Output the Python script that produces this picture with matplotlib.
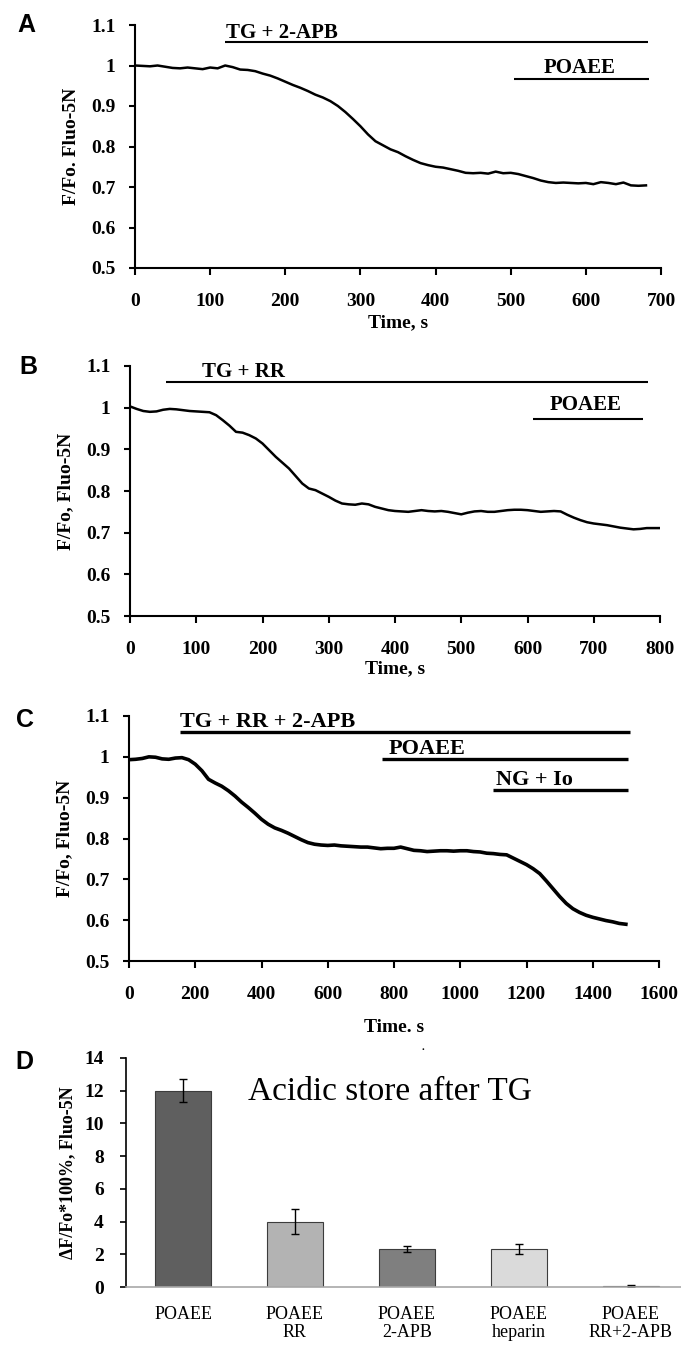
import matplotlib
matplotlib.use("Agg")
import matplotlib.pyplot as plt

plt.rcParams['font.family'] = ['Liberation Serif', 'DejaVu Serif']
plt.rcParams['font.weight'] = 'bold'

# panel A: TG + 2-APB, then POAEE (every 10 s)
t_a = list(range(0, 690, 10))
f_a = [1.000, 0.999, 0.998, 1.000, 0.997, 0.994, 0.993, 0.995, 0.993, 0.991,
       0.995, 0.993, 1.000, 0.996, 0.990, 0.989, 0.986, 0.980, 0.975, 0.968,
       0.960, 0.952, 0.945, 0.937, 0.928, 0.921, 0.912, 0.900, 0.885, 0.868,
       0.850, 0.830, 0.813, 0.803, 0.793, 0.786, 0.776, 0.767, 0.759, 0.754,
       0.750, 0.748, 0.744, 0.740, 0.735, 0.734, 0.735, 0.733, 0.738, 0.734,
       0.735, 0.732, 0.727, 0.722, 0.716, 0.712, 0.710, 0.711, 0.710, 0.709,
       0.710, 0.707, 0.712, 0.710, 0.707, 0.711, 0.704, 0.703, 0.704]

# panel B: TG + RR, then POAEE (every 10 s)
t_b = list(range(0, 810, 10))
f_b = [1.003, 0.997, 0.992, 0.990, 0.991, 0.995, 0.997, 0.996, 0.994, 0.992,
       0.991, 0.990, 0.989, 0.982, 0.970, 0.957, 0.942, 0.940, 0.934, 0.926,
       0.914, 0.898, 0.882, 0.868, 0.854, 0.836, 0.818, 0.806, 0.802, 0.794,
       0.786, 0.777, 0.770, 0.768, 0.767, 0.770, 0.768, 0.762, 0.758, 0.754,
       0.752, 0.751, 0.750, 0.752, 0.754, 0.752, 0.751, 0.752, 0.750, 0.747,
       0.744, 0.748, 0.751, 0.752, 0.750, 0.750, 0.752, 0.754, 0.755, 0.755,
       0.754, 0.752, 0.750, 0.751, 0.752, 0.751, 0.743, 0.736, 0.730, 0.725,
       0.722, 0.720, 0.718, 0.715, 0.712, 0.710, 0.708, 0.709, 0.711, 0.711,
       0.711]

# panel C: TG + RR + 2-APB, POAEE, NG + Io (every 20 s)
t_c = list(range(0, 1520, 20))
f_c = [0.993, 0.994, 0.996, 1.000, 0.999, 0.995, 0.994, 0.997, 0.998, 0.993,
       0.982, 0.966, 0.945, 0.936, 0.928, 0.917, 0.904, 0.889, 0.876, 0.862,
       0.847, 0.835, 0.826, 0.820, 0.813, 0.805, 0.797, 0.790, 0.786, 0.784,
       0.783, 0.784, 0.782, 0.781, 0.780, 0.779, 0.779, 0.777, 0.775, 0.776,
       0.776, 0.779, 0.775, 0.771, 0.770, 0.768, 0.769, 0.770, 0.770, 0.769,
       0.770, 0.770, 0.768, 0.767, 0.764, 0.763, 0.761, 0.760, 0.752, 0.744,
       0.736, 0.726, 0.714, 0.696, 0.677, 0.658, 0.641, 0.628, 0.619, 0.612,
       0.607, 0.603, 0.599, 0.596, 0.592, 0.590]

# panel D: bars
groups = ['POAEE', 'POAEE\nRR', 'POAEE\n2-APB', 'POAEE\nheparin', 'POAEE\nRR+2-APB']
means = [12.0, 4.0, 2.33, 2.3, 0.05]
errs = [0.72, 0.78, 0.2, 0.3, 0.06]
bar_colors = ['#5f5f5f', '#b3b3b3', '#7f7f7f', '#dadada', '#c4c4c4']

# treatment bars: (label, start, end, line y, label x, label y, align)
marks_a = [('TG + 2-APB', 120, 683, 1.058, 121, 1.08, 'left'),
           ('POAEE', 505, 684, 0.967, 591, 0.994, 'center')]
marks_b = [('TG + RR', 55, 782, 1.062, 109, 1.086, 'left'),
           ('POAEE', 608, 775, 0.973, 688, 1.006, 'center')]
marks_c = [('TG + RR + 2-APB', 153, 1511, 1.061, 154, 1.085, 'left'),
           ('POAEE', 763, 1507, 0.995, 785, 1.019, 'left'),
           ('NG + Io', 1098, 1507, 0.919, 1107, 0.943, 'left')]

W, H = 681, 1354
fig = plt.figure(figsize=(W / 100, H / 100), dpi=100)


def box(l, r, top, bot):
    return [l / W, 1 - bot / H, (r - l) / W, (bot - top) / H]


def trace(rect, t, f, xmax, xstep, marks, ylab, xlab, xlab_off, lw, mlw, mfs):
    ax = fig.add_axes(rect)
    ax.plot(t, f, color='black', lw=lw)
    for lab, x0, x1, yl, xt, yt, ha in marks:
        ax.plot([x0, x1], [yl, yl], color='black', lw=mlw, solid_capstyle='butt')
        ax.text(xt, yt, lab, ha=ha, va='center', fontsize=mfs, fontweight='bold')
    ax.set_xlim(0, xmax)
    ax.set_ylim(0.5, 1.1)
    ax.set_xticks(range(0, xmax + 1, xstep))
    ax.set_yticks([0.5, 0.6, 0.7, 0.8, 0.9, 1.0, 1.1])
    ax.set_yticklabels(['0.5', '0.6', '0.7', '0.8', '0.9', '1', '1.1'])
    ax.spines['top'].set_visible(False)
    ax.spines['right'].set_visible(False)
    ax.spines['left'].set_linewidth(1.5)
    ax.spines['bottom'].set_linewidth(1.5)
    ax.tick_params(axis='x', direction='out', length=5, width=1.5, pad=13, labelsize=14)
    ax.tick_params(axis='y', direction='out', length=4, width=1.5, pad=10, labelsize=14)
    ax.set_ylabel(ylab, fontsize=14, fontweight='bold')
    ax.yaxis.set_label_coords(-0.105, 0.5)
    ax.set_xlabel(xlab, fontsize=14, fontweight='bold')
    ax.xaxis.set_label_coords(0.5, xlab_off)
    return ax


trace(box(135, 661, 25, 268), t_a, f_a, 700, 100, marks_a,
      'F/Fo. Fluo-5N', 'Time, s', -0.19, 1.8, 1.5, 15)
trace(box(130, 660, 366, 616), t_b, f_b, 800, 100, marks_b,
      'F/Fo, Fluo-5N', 'Time, s', -0.175, 1.8, 1.5, 15)
trace(box(129, 659, 716, 961), t_c, f_c, 1600, 200, marks_c,
      'F/Fo, Fluo-5N', 'Time. s', -0.235, 2.6, 2.4, 16)

# panel D
axd = fig.add_axes(box(126, 681, 1058, 1287))
axd.bar(range(len(groups)), means, width=0.5, color=bar_colors,
        edgecolor='#3c3c3c', linewidth=0.8)
axd.errorbar(range(len(groups)), means, yerr=errs, fmt='none',
             ecolor='black', elinewidth=1.0, capsize=3, capthick=1.0)
axd.set_xlim(-0.51, 4.45)
axd.set_ylim(0, 14)
axd.set_yticks(range(0, 15, 2))
axd.set_xticks(range(len(groups)))
axd.set_xticklabels(groups, fontsize=13, fontweight='normal', linespacing=1.05)
axd.tick_params(axis='x', length=0, pad=14)
axd.tick_params(axis='y', direction='out', length=4, width=1.2, pad=12, labelsize=14)
axd.spines['top'].set_visible(False)
axd.spines['right'].set_visible(False)
axd.spines['left'].set_linewidth(1.2)
axd.spines['bottom'].set_color('#a8a8a8')
axd.spines['bottom'].set_linewidth(1.2)
axd.set_ylabel('\u0394F/Fo*100%, Fluo-5N', fontsize=13, fontweight='bold')
axd.yaxis.set_label_coords(-0.09, 0.5)
axd.text(0.58, 11.95, 'Acidic store after TG', ha='left', va='center',
         fontsize=24, fontweight='normal')

# panel letters
for letter, x, y in [('A', 26, 25), ('B', 28, 367), ('C', 25, 720), ('D', 24, 1062)]:
    fig.text(x / W, 1 - y / H, letter, ha='center', va='center',
             fontsize=18, fontweight='bold', family=['Liberation Sans', 'DejaVu Sans'])
fig.text(423 / W, 1 - 1048 / H, '.', fontsize=8, ha='center', va='center')

fig.savefig('out.png', dpi=100)
